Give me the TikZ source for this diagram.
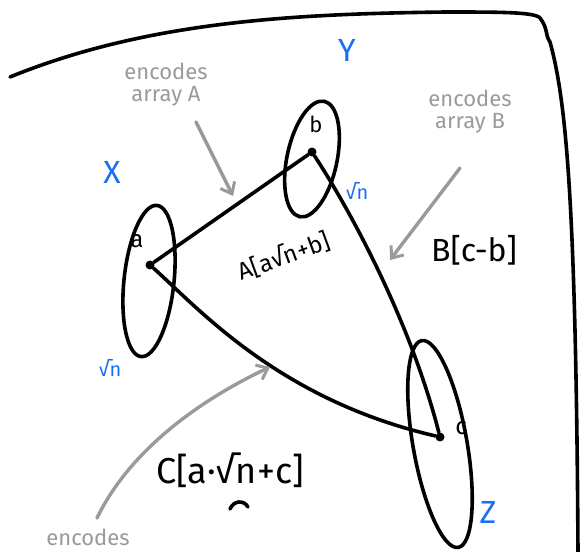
\documentclass[tikz,border=0pt]{standalone}
\usepackage{fontspec}
\setmainfont{Fira Sans}
\usetikzlibrary{shapes.geometric,arrows.meta}
\definecolor{inkblue}{HTML}{1A6FF0}
\definecolor{inkgray}{HTML}{9A9A9A}
\begin{document}
\begin{tikzpicture}[x=1pt,y=-1pt,
  ink/.style={line width=3.6pt,line cap=round,line join=round,black},
  grayink/.style={line width=3.4pt,line cap=round,line join=round,inkgray},
  setell/.style={ellipse,draw,line width=3.6pt,inner sep=0pt},
  dotmark/.style={circle,fill=black,inner sep=0pt,minimum size=9pt},
  bluelbl/.style={text=inkblue,font=\fontsize{32}{34}\selectfont},
  graylbl/.style={text=inkgray,font=\fontsize{22}{22}\selectfont,align=center},
  blacklbl/.style={text=black,font=\fontsize{28}{30}\selectfont},
  garrow/.style={grayink,-{Straight Barb[length=10pt,width=16pt,line width=3pt]}}]
\useasboundingbox (0,0) rectangle (582,552);
% frame
\draw[ink] (10,77) .. controls (150,20) and (300,14) .. (445,12)
  .. controls (500,12) and (535,12) .. (540,18)
  .. controls (548,28) and (545,35) .. (550,42)
  .. controls (566,100) and (576,200) .. (578,552);
% sets
\node[setell,minimum width=50pt,minimum height=152pt,rotate=-6] (ellX) at (149,281) {};
\node[setell,minimum width=50pt,minimum height=118pt,rotate=-12] (ellY) at (312,159) {};
\node[setell,minimum width=54pt,minimum height=210pt,rotate=10] (ellZ) at (440,444) {};
% elements
\node[blacklbl,font=\fontsize{24}{26}\selectfont] (la) at (137,241) {a};
\node[blacklbl,font=\fontsize{22}{24}\selectfont] (lb) at (316,124) {b};
\node[blacklbl,font=\fontsize{24}{26}\selectfont] (lc) at (461,428) {c};
\node[dotmark] (da) at (150,265) {};
\node[dotmark] (db) at (312,152) {};
\node[dotmark] (dc) at (440,437) {};
% connectors
\draw[ink] (da) -- (db);
\draw[ink] (db) .. controls (350,210) and (410,320) .. (dc);
\draw[ink] (da) .. controls (200,310) and (280,400) .. (dc);
% blue labels
\node[bluelbl] (lX) at (112,172) {X};
\node[bluelbl] (lY) at (347,50) {Y};
\node[bluelbl] (lZ) at (488,512) {Z};
\node[text=inkblue,font=\fontsize{20}{22}\selectfont] (sX) at (110,368) {√n};
\node[text=inkblue,font=\fontsize{20}{22}\selectfont] (sY) at (357,191) {√n};
% black labels
\node[blacklbl,font=\fontsize{24}{26}\selectfont,rotate=20] (lA) at (284,256) {A[a√n+b]};
\node[blacklbl,font=\fontsize{32}{34}\selectfont] (lB) at (474,250) {B[c-b]};
\node[blacklbl,font=\fontsize{36}{38}\selectfont] (lC) at (230,470) {C[a·√n+c]};
\draw[ink] (230,509) .. controls (234,500) and (244,500) .. (248,507);
% gray annotations
\node[graylbl] (eA) at (166,85) {encodes\\array A};
\node[graylbl] (eB) at (470,112) {encodes\\array B};
\node[graylbl,anchor=south] (eC) at (88,549) {encodes};
\coordinate (tA) at (233,196);
\coordinate (tB) at (390,260);
\coordinate (tC) at (270,367);
\draw[garrow] (196,122) -- (tA);
\draw[garrow] (460,168) -- (tB);
\draw[garrow] (97,518) .. controls (130,450) and (200,400) .. (tC);
\end{tikzpicture}
\end{document}
